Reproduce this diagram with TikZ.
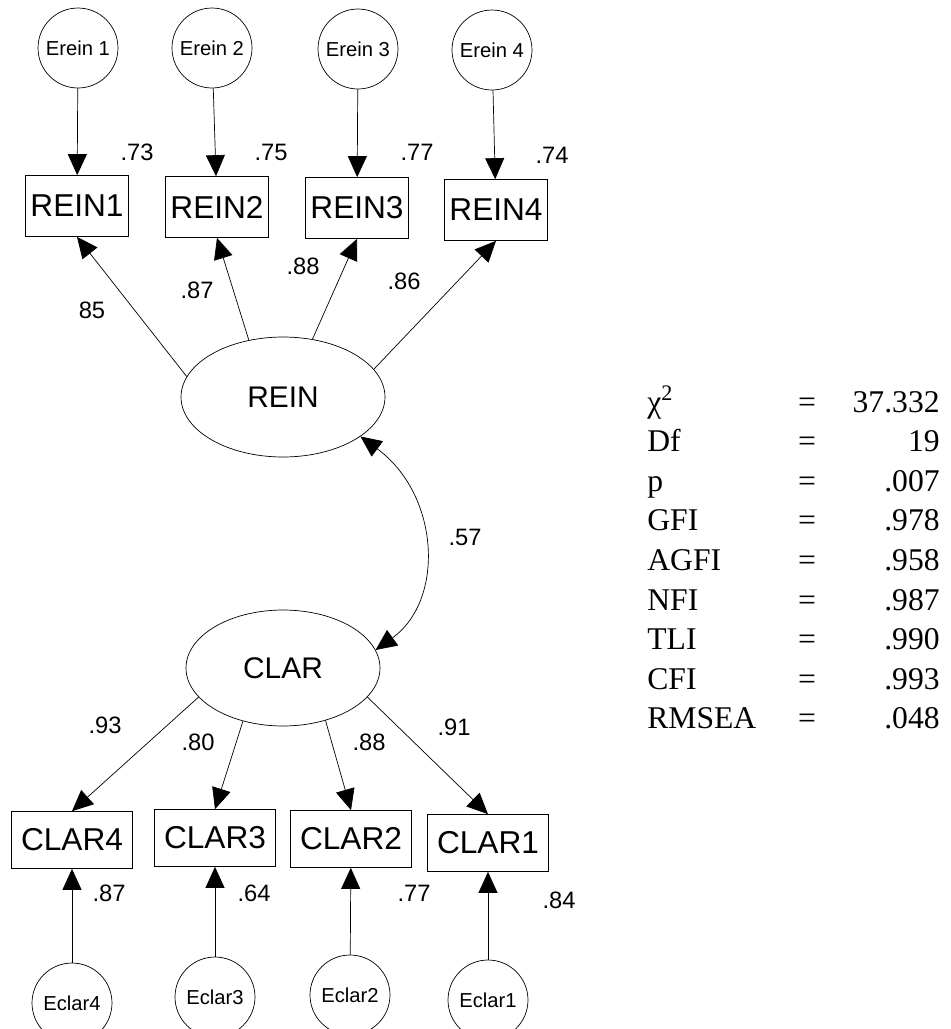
\documentclass[tikz,border=0pt]{standalone}
\usepackage{fontspec}
\setmainfont{Liberation Serif}
\newfontfamily\arialfont{Liberation Sans}
\usetikzlibrary{arrows.meta,shapes.geometric}
\tikzset{
  obs/.style={draw,thin,rectangle,minimum width=2.06cm,minimum height=1.22cm,inner sep=0pt,font=\arialfont\fontsize{18}{20}\selectfont},
  cobs/.style={obs,minimum width=2.42cm,minimum height=1.14cm},
  lat/.style={draw,thin,ellipse,minimum width=4.08cm,minimum height=2.4cm,inner sep=0pt,font=\arialfont\fontsize{17}{19}\selectfont},
  err/.style={draw,thin,circle,minimum size=1.6cm,inner sep=0pt,font=\arialfont\fontsize{11.5}{13}\selectfont},
  load/.style={thin,-{Triangle[length=4.2mm,width=3.8mm]}},
  cov/.style={thin,{Triangle[length=4.2mm,width=3.8mm]}-{Triangle[length=4.2mm,width=3.8mm]}},
  num/.style={font=\arialfont\fontsize{13.5}{15}\selectfont,inner sep=0pt},
  stat/.style={font=\fontsize{18}{20}\selectfont,inner sep=0pt}
}
\begin{document}
\begin{tikzpicture}[x=0.02cm,y=-0.02cm]
      \useasboundingbox (0,0) rectangle (951,1029);
      % error terms and indicators of REIN
      \node[err] (Erein1) at (78,48) {Erein 1};
      \node[err] (Erein2) at (212,48) {Erein 2};
      \node[err] (Erein3) at (358,49) {Erein 3};
      \node[err] (Erein4) at (492,50) {Erein 4};
      \node[obs] (REIN1) at (77,206) {REIN1};
      \node[obs] (REIN2) at (217,207) {REIN2};
      \node[obs] (REIN3) at (357,208) {REIN3};
      \node[obs] (REIN4) at (496,210) {REIN4};
      \foreach \i in {1,...,4} \draw[load] (Erein\i) -- (REIN\i);
      \node[num] (r1) at (137,152) {.73};
      \node[num] (r2) at (271,152) {.75};
      \node[num] (r3) at (417,152) {.77};
      \node[num] (r4) at (552,155) {.74};
      % latent factors
      \node[lat] (REIN) at (283,397) {REIN};
      \node[lat,minimum width=3.88cm,minimum height=2.32cm] (CLAR) at (283,668) {CLAR};
      \draw[load] (REIN.168) -- (REIN1.south);
      \draw[load] (REIN.121) -- (REIN2.south);
      \draw[load] (REIN.63) -- (REIN3.south);
      \draw[load] (REIN.17) -- (REIN4.south);
      \node[num] (l1) at (92,310) {85};
      \node[num] (l2) at (197,290) {.87};
      \node[num] (l3) at (303,266) {.88};
      \node[num] (l4) at (404,281) {.86};
      \draw[cov] (REIN.333) .. controls (440,495) and (445,600) .. (CLAR.11);
      \node[num] (phi) at (465,537) {.57};
      % indicators of CLAR and their error terms
      \node[cobs] (CLAR4) at (72,840) {CLAR4};
      \node[cobs] (CLAR3) at (215,838) {CLAR3};
      \node[cobs] (CLAR2) at (351,839) {CLAR2};
      \node[cobs] (CLAR1) at (488,843) {CLAR1};
      \draw[load] (CLAR.199) -- (CLAR4.north);
      \draw[load] (CLAR.233) -- (CLAR3.north);
      \draw[load] (CLAR.309) -- (CLAR2.north);
      \draw[load] (CLAR.341) -- (CLAR1.north);
      \node[num] (m4) at (105,725) {.93};
      \node[num] (m3) at (198,742) {.80};
      \node[num] (m2) at (369,742) {.88};
      \node[num] (m1) at (454,727) {.91};
      \node[err] (Eclar4) at (72,1003) {Eclar4};
      \node[err] (Eclar3) at (215,997) {Eclar3};
      \node[err] (Eclar2) at (350,995) {Eclar2};
      \node[err] (Eclar1) at (488,1000) {Eclar1};
      \foreach \i in {1,...,4} \draw[load] (Eclar\i) -- (CLAR\i);
      \node[num] (c4) at (109,893) {.87};
      \node[num] (c3) at (254,893) {.64};
      \node[num] (c2) at (414,893) {.77};
      \node[num] (c1) at (559,900) {.84};
      % fit indices
      \foreach \lab/\val [count=\i] in {{χ\textsuperscript{2}}/37.332,Df/19,p/.007,GFI/.978,AGFI/.958,NFI/.987,TLI/.990,CFI/.993,RMSEA/.048}{
        \node[stat,anchor=base west] (fit\i) at (647,{412+39.6*(\i-1)}) {\lab};
        \node[stat,anchor=base] (eq\i) at (807,{412+39.6*(\i-1)}) {=};
        \node[stat,anchor=base east] (val\i) at (940,{412+39.6*(\i-1)}) {\val};
      }
    \end{tikzpicture}
\end{document}
